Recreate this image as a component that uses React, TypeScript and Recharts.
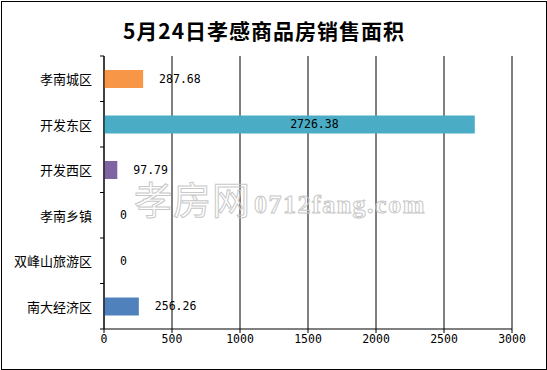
import { ComposedChart, Bar, Line, XAxis, YAxis, CartesianGrid, Cell, LabelList } from 'recharts';

const categories = ['孝南城区', '开发东区', '开发西区', '孝南乡镇', '双峰山旅游区', '南大经济区'];
const areas = [287.68, 2726.38, 97.79, 0, 0, 256.26];
const barColors = ['#F79646', '#4BACC6', '#8064A2', '#9BBB59', '#C0504D', '#4F81BD'];
const xTicks = [0, 500, 1000, 1500, 2000, 2500, 3000];
const title = '5月24日孝感商品房销售面积';

const data = categories.map((name, i) => ({ name, value: areas[i] }));

const W = 547;
const H = 370;
const PLOT_LEFT = 104;
const PLOT_TOP = 56;
const PLOT_BOTTOM = 329;
const BAND = (PLOT_BOTTOM - PLOT_TOP) / categories.length;
const NUM_FONT = '"DejaVu Sans Mono", monospace';
const CJK_FONT = '"Noto Sans CJK SC", sans-serif';

const CategoryTick = (props: any) => {
  const { y, payload, index } = props;
  return (
    <g>
      <text x={92} y={y} textAnchor="end" dominantBaseline="central" fontSize={13} fontFamily={CJK_FONT} fill="#000">
        {payload.value}
      </text>
      <line x1={PLOT_LEFT - 4} x2={PLOT_LEFT} y1={y - BAND / 2} y2={y - BAND / 2} stroke="#000" />
      {index === categories.length - 1 && (
        <line x1={PLOT_LEFT - 4} x2={PLOT_LEFT} y1={y + BAND / 2} y2={y + BAND / 2} stroke="#000" />
      )}
    </g>
  );
};

// labels hang off an invisible line so zero values still get one
const ValueLabel = (props: any) => {
  const { x, y, value } = props;
  const inside = value > 2000;
  const tx = inside ? (PLOT_LEFT + x) / 2 + 25 : x + 16;
  return (
    <text
      x={tx}
      y={y}
      textAnchor={inside ? 'middle' : 'start'}
      dominantBaseline="central"
      fontSize={11.5}
      fontFamily={NUM_FONT}
      fill="#000"
    >
      {value}
    </text>
  );
};

export default function App() {
  return (
    <div style={{ position: 'absolute', left: 0, top: 0, width: W, height: H, background: '#fff' }}>
      <div
        style={{
          position: 'absolute',
          left: 1,
          top: 1,
          width: W - 3,
          height: H - 3,
          border: '1px solid #000',
        }}
      />
      <div
        style={{
          position: 'absolute',
          left: 0,
          width: 528,
          top: 16,
          textAlign: 'center',
          fontFamily: CJK_FONT,
          fontWeight: 700,
          fontSize: 21,
          letterSpacing: 1,
          lineHeight: '28px',
        }}
      >
        {title}
      </div>
      <div style={{ position: 'absolute', left: 0, top: 0 }}>
        <ComposedChart
          width={W}
          height={H}
          data={data}
          layout="vertical"
          barSize={18}
          margin={{ top: PLOT_TOP, right: W - 512, bottom: H - PLOT_BOTTOM - 30, left: 0 }}
        >
          <CartesianGrid horizontal={false} stroke="#000" strokeDasharray="" />
          <XAxis
            type="number"
            domain={[0, 3000]}
            ticks={xTicks}
            interval={0}
            height={30}
            tickSize={4}
            axisLine={{ stroke: '#000' }}
            tickLine={{ stroke: '#000' }}
            tick={{ fill: '#000', fontSize: 11.5, fontFamily: NUM_FONT }}
          />
          <YAxis
            type="category"
            dataKey="name"
            width={PLOT_LEFT}
            axisLine={{ stroke: '#000' }}
            tickLine={false}
            tick={<CategoryTick />}
            interval={0}
          />
          <Bar dataKey="value" isAnimationActive={false}>
            {data.map((d, i) => (
              <Cell key={d.name} fill={barColors[i]} />
            ))}
          </Bar>
          <Line dataKey="value" stroke="none" dot={false} activeDot={false} isAnimationActive={false}>
            <LabelList dataKey="value" content={<ValueLabel />} />
          </Line>
        </ComposedChart>
      </div>
      <svg width={W} height={H} style={{ position: 'absolute', left: 0, top: 0, pointerEvents: 'none' }}>
        <text x={134} y={214} fontSize={38} fontFamily={CJK_FONT} fill="none" stroke="#c8c8c8" strokeWidth={1} letterSpacing={1}>
          孝房网
        </text>
        <text x={254} y={213} fontSize={26} fontFamily='"Liberation Serif", serif' fontWeight={700} fill="none" stroke="#c8c8c8" strokeWidth={1} letterSpacing={1.5}>
          0712fang.com
        </text>
      </svg>
    </div>
  );
}
